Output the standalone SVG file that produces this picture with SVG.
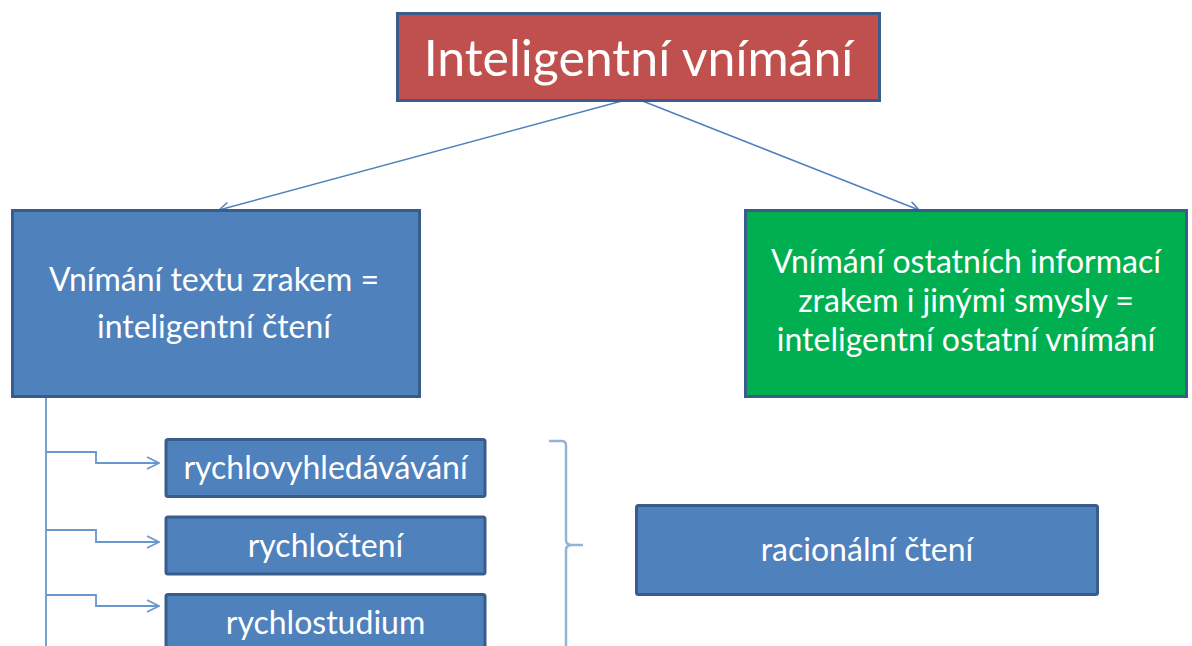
<svg xmlns="http://www.w3.org/2000/svg" width="1192" height="646" viewBox="0 0 1192 646">
<style>
.box{stroke:#385D8A;stroke-width:3}
.blue{fill:#4F81BD}
.red{fill:#C0504D}
.green{fill:#00B050}
.t{fill:#FFFFFF;font-family:Lato,"Open Sans","Liberation Sans",sans-serif;text-anchor:middle;font-size:32px}
.conn{fill:none;stroke:#4F81BD;stroke-width:1.5}
.elb{fill:none;stroke:#6A96CF;stroke-width:1.8}
.brace{fill:none;stroke:#95B3D7;stroke-width:2.5}
</style>
<defs>
<marker id="open" viewBox="0 0 12 12" refX="11" refY="6" markerWidth="12" markerHeight="12" markerUnits="userSpaceOnUse" orient="auto">
<path d="M1,1 L11,6 L1,11" fill="none" stroke="#4F81BD" stroke-width="1.5"/>
</marker>
<marker id="open2" viewBox="0 0 14 14" refX="13" refY="7" markerWidth="14" markerHeight="14" markerUnits="userSpaceOnUse" orient="auto">
<path d="M1,1 L13,7 L1,13" fill="none" stroke="#6A96CF" stroke-width="1.8"/>
</marker>
</defs>
<rect width="1192" height="646" fill="#FFFFFF"/>
<g id="connectors">
<line class="conn" x1="659" y1="91" x2="219" y2="210" marker-end="url(#open)"/>
<line class="conn" x1="640" y1="100" x2="919" y2="210" marker-end="url(#open)"/>
<path class="elb" d="M46,398 V646"/>
<path class="elb" d="M46,452 H96 V463 H159" marker-end="url(#open2)"/>
<path class="elb" d="M46,530 H96 V542 H159" marker-end="url(#open2)"/>
<path class="elb" d="M46,595 H96 V606 H159" marker-end="url(#open2)"/>
<path class="brace" d="M549,441 H562 Q566,441 566,446 V540 Q566,545 572,545 H583 M572,545 Q566,545 566,550 V646"/>
</g>
<g id="node-title">
<rect class="box red" x="397.5" y="13.5" width="482" height="87"/>
<text class="t" x="638.5" y="76" style="font-size:50px">Inteligentní vnímání</text>
</g>
<g id="node-cteni">
<rect class="box blue" x="12.5" y="210.5" width="407" height="186"/>
<text class="t" x="214" y="291">Vnímání textu zrakem =</text>
<text class="t" x="214" y="338">inteligentní čtení</text>
</g>
<g id="node-ostatni">
<rect class="box green" x="745.5" y="210.5" width="441" height="186"/>
<text class="t" x="966" y="273">Vnímání ostatních informací</text>
<text class="t" x="966" y="312">zrakem i jinými smysly =</text>
<text class="t" x="966" y="351">inteligentní ostatní vnímání</text>
</g>
<g id="node-rychlovyhledavavani">
<rect class="box blue" x="166" y="439.5" width="319" height="57" rx="2"/>
<text class="t" x="325.5" y="479">rychlovyhledávávání</text>
</g>
<g id="node-rychlocteni">
<rect class="box blue" x="166" y="517" width="319" height="57" rx="2"/>
<text class="t" x="325.5" y="557">rychločtení</text>
</g>
<g id="node-rychlostudium">
<rect class="box blue" x="166" y="594.5" width="319" height="57" rx="2"/>
<text class="t" x="325.5" y="634">rychlostudium</text>
</g>
<g id="node-racionalni">
<rect class="box blue" x="636.5" y="505.5" width="461" height="89" rx="2"/>
<text class="t" x="867" y="561">racionální čtení</text>
</g>
</svg>
